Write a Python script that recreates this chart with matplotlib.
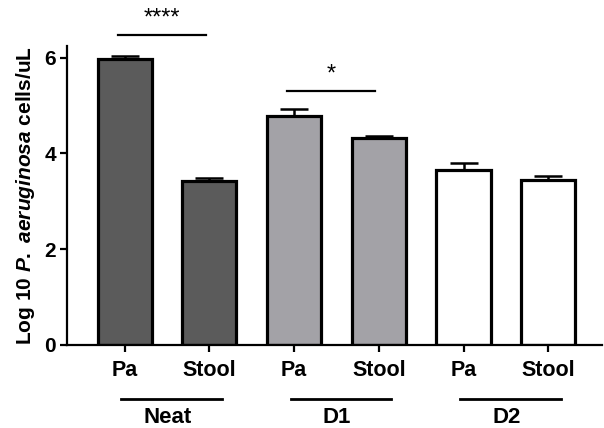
import numpy as np
import matplotlib.pyplot as plt
import matplotlib.transforms as mtransforms

plt.rcParams['font.family'] = ['Liberation Sans', 'DejaVu Sans']
plt.rcParams['mathtext.fontset'] = 'custom'
plt.rcParams['mathtext.it'] = 'Liberation Sans:italic:bold'
plt.rcParams['mathtext.rm'] = 'Liberation Sans:bold'

# data
samples = ['Pa', 'Stool', 'Pa', 'Stool', 'Pa', 'Stool']
groups = ['Neat', 'D1', 'D2']
means = [5.97, 3.42, 4.78, 4.33, 3.65, 3.44]
errs = [0.06, 0.07, 0.14, 0.04, 0.16, 0.10]
colors = ['#5b5b5b', '#5b5b5b', '#a3a2a7', '#a3a2a7', 'white', 'white']
sig = [(0, 1, '****'), (2, 3, '*')]

fig = plt.figure(figsize=(6.04, 4.28), dpi=100)
ax = fig.add_axes([0.111, 0.194, 0.885, 0.699])

x = np.arange(len(means))
ax.bar(x, means, width=0.64, color=colors, edgecolor='black', linewidth=2.3, zorder=2)
ax.errorbar(x, means, yerr=[np.zeros(len(errs)), errs], fmt='none', ecolor='black',
            elinewidth=1.8, capsize=10, capthick=1.8, zorder=1)

ax.set_xlim(-0.68, 5.63)
ax.set_ylim(0, 6.25)
ax.set_yticks([0, 2, 4, 6])
ax.set_xticks(x)
ax.set_xticklabels(samples)
ax.tick_params(axis='y', length=5, width=1.6, labelsize=15, pad=3)
ax.tick_params(axis='x', length=5, width=1.6, labelsize=15.5, pad=6)
for lab in ax.get_yticklabels() + ax.get_xticklabels():
    lab.set_fontweight('bold')

for s in ['top', 'right']:
    ax.spines[s].set_visible(False)
for s in ['left', 'bottom']:
    ax.spines[s].set_linewidth(1.6)

ax.set_ylabel(r'Log 10 $\it{P.\ aeruginosa}$ cells/uL', fontsize=15, fontweight='bold', labelpad=5)

# significance bars
sig_y = [6.48, 5.31]
for (a, b, txt), yy in zip(sig, sig_y):
    ax.plot([a - 0.08, b - 0.04], [yy, yy], color='black', lw=1.6, clip_on=False)
    ax.text((a + b) / 2 - 0.06, yy + 0.1, txt, ha='center', va='bottom', fontsize=17)

# group labels under the axis
trans = mtransforms.blended_transform_factory(ax.transData, ax.transAxes)
for i, g in enumerate(groups):
    x0 = 2 * i - 0.04
    x1 = 2 * i + 1.15
    ax.plot([x0, x1], [-0.18, -0.18], color='black', lw=2, transform=trans, clip_on=False)
    ax.text((x0 + x1) / 2 - 0.05, -0.243, g, ha='center', va='center', fontsize=16,
            fontweight='bold', transform=trans)

fig.savefig('out.png', dpi=100)
